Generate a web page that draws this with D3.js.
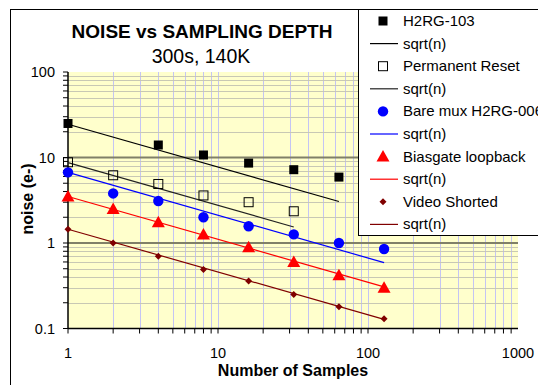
<!DOCTYPE html>
<html>
<head>
<meta charset="utf-8">
<script src="https://cdn.jsdelivr.net/npm/d3@7"></script>
<style>
  body { margin: 0; background: #fff; }
  svg { display: block; font-family: Arial, "Liberation Sans", sans-serif; }
</style>
</head>
<body>
<svg></svg>
<script>
// chart size
const width = 538,
      height = 385;

// data
const samples = [1, 2, 4, 8, 16, 32, 64, 128];

const h2rg103 = [25, null, 14, 10.7, 8.6, 7.2, 5.9, null];
const permReset = [8.8, 6.2, 4.9, 3.6, 3.0, 2.35, null, null];
const bareMux = [6.7, 3.8, 3.1, 2.0, 1.57, 1.26, 1.0, 0.85];
const biasgate = [3.5, 2.5, 1.75, 1.26, 0.89, 0.6, 0.42, 0.3];
const videoShorted = [1.45, 1.0, 0.7, 0.49, 0.36, 0.25, 0.18, 0.13];

// sqrt(n) fit lines, end points
const fitH2rg = [[1, 24.5], [64, 3.06]];
const fitPerm = [[1, 8.7], [32, 1.54]];
const fitMux = [[1, 6.7], [128, 0.59]];
const fitBias = [[1, 3.5], [128, 0.307]];
const fitVideo = [[1, 1.45], [128, 0.128]];

const xTicks = [1, 10, 100, 1000];
const yTicks = [0.1, 1, 10, 100];

const series = [
  { name: 'H2RG-103', values: h2rg103, fit: fitH2rg, marker: 'square', fill: '#000', line: '#000' },
  { name: 'Permanent Reset', values: permReset, fit: fitPerm, marker: 'open', fill: 'none', line: '#222' },
  { name: 'Bare mux H2RG-006', values: bareMux, fit: fitMux, marker: 'circle', fill: '#0000ff', line: '#0000ff' },
  { name: 'Biasgate loopback', values: biasgate, fit: fitBias, marker: 'triangle', fill: '#ff0000', line: '#ff0000' },
  { name: 'Video Shorted', values: videoShorted, fit: fitVideo, marker: 'diamond', fill: '#800000', line: '#800000' }
];

const svg = d3.select('svg')
              .attr('width', width)
              .attr('height', height);

// scales
const x = d3.scaleLog().domain([1, 1000]).range([68, 518]);
const y = d3.scaleLog().domain([0.1, 100]).range([328.5, 72]);

// chart frame
svg.append('rect')
   .attr('x', 10.5).attr('y', 9.5)
   .attr('width', 600).attr('height', 400)
   .attr('fill', '#fff')
   .attr('stroke', '#000');

// plot background
svg.append('rect')
   .attr('x', x(1)).attr('y', y(100))
   .attr('width', x(1000) - x(1))
   .attr('height', y(0.1) - y(100))
   .attr('fill', '#ffffcc');

// minor values for grid
let minors = [];
[0.1, 1, 10, 100].forEach(d => {
  for (let k = 1; k < 10; k++) minors.push(d * k);
});
const xMinor = minors.filter(d => d >= 1 && d <= 1000);
const yMinor = minors.filter(d => d >= 0.1 && d <= 100);

const grid = svg.append('g');

// vertical grid
grid.selectAll('.vgrid')
    .data(xMinor.filter(d => d > 1))
    .enter().append('line')
    .attr('x1', d => Math.round(x(d)) + 0.5)
    .attr('x2', d => Math.round(x(d)) + 0.5)
    .attr('y1', y(100)).attr('y2', y(0.1))
    .attr('stroke', '#c4c4f4');

// horizontal minor grid
grid.selectAll('.hgrid')
    .data(yMinor.filter(d => yTicks.indexOf(+d.toPrecision(3)) < 0))
    .enter().append('line')
    .attr('x1', x(1)).attr('x2', x(1000))
    .attr('y1', d => Math.round(y(d)) + 0.5)
    .attr('y2', d => Math.round(y(d)) + 0.5)
    .attr('stroke', '#c8c8b4');

// horizontal major grid
grid.selectAll('.hmajor')
    .data([1, 10])
    .enter().append('line')
    .attr('x1', x(1)).attr('x2', x(1000))
    .attr('y1', d => y(d)).attr('y2', d => y(d))
    .attr('stroke', '#808068')
    .attr('stroke-width', 2);

// axes
const xAxis = svg.append('g').attr('transform', 'translate(0,' + y(0.1) + ')');
xAxis.append('line').attr('x1', x(1)).attr('x2', x(1000)).attr('stroke', '#000').attr('stroke-width', 1.5);
xAxis.selectAll('.tick')
     .data(xMinor)
     .enter().append('line')
     .attr('x1', d => x(d)).attr('x2', d => x(d))
     .attr('y1', 0).attr('y2', 5)
     .attr('stroke', '#000');
xAxis.selectAll('.lbl')
     .data(xTicks)
     .enter().append('text')
     .attr('x', d => x(d))
     .attr('y', 29)
     .attr('text-anchor', 'middle')
     .attr('font-size', '14.5px')
     .text(d => d);

const yAxis = svg.append('g').attr('transform', 'translate(' + x(1) + ',0)');
yAxis.append('line').attr('y1', y(0.1)).attr('y2', y(100)).attr('stroke', '#000').attr('stroke-width', 1.5);
yAxis.selectAll('.tick')
     .data(yMinor)
     .enter().append('line')
     .attr('y1', d => y(d)).attr('y2', d => y(d))
     .attr('x1', 0).attr('x2', -5)
     .attr('stroke', '#000');
yAxis.selectAll('.lbl')
     .data(yTicks)
     .enter().append('text')
     .attr('x', -13)
     .attr('y', d => y(d) + 5)
     .attr('text-anchor', 'end')
     .attr('font-size', '14.5px')
     .text(d => d);

// fit lines
const line = d3.line().x(d => x(d[0])).y(d => y(d[1]));
svg.append('g').selectAll('path')
   .data(series)
   .enter().append('path')
   .attr('d', d => line(d.fit))
   .attr('fill', 'none')
   .attr('stroke', d => d.line)
   .attr('stroke-width', 1.2);

// marker shapes
function drawMarker(g, type, s) {
  if (type === 'square') {
    g.append('rect').attr('x', -4.5).attr('y', -4.5).attr('width', 9).attr('height', 9)
     .attr('fill', s.fill);
  } else if (type === 'open') {
    g.append('rect').attr('x', -4.5).attr('y', -4.5).attr('width', 9).attr('height', 9)
     .attr('fill', 'none').attr('stroke', '#000').attr('stroke-width', 1);
  } else if (type === 'circle') {
    g.append('circle').attr('r', 5.2).attr('fill', s.fill);
  } else if (type === 'triangle') {
    g.append('path').attr('d', 'M0,-6.5L6.5,5L-6.5,5Z').attr('fill', s.fill);
  } else if (type === 'diamond') {
    g.append('path').attr('d', 'M0,-3.5L3.5,0L0,3.5L-3.5,0Z').attr('fill', s.fill);
  }
}

// data points
series.forEach(s => {
  const pts = samples.map((n, i) => ({ n: n, v: s.values[i] })).filter(d => d.v != null);
  svg.append('g').selectAll('g')
     .data(pts)
     .enter().append('g')
     .attr('transform', d => 'translate(' + x(d.n) + ',' + y(d.v) + ')')
     .each(function() { drawMarker(d3.select(this), s.marker, s); });
});

// title
svg.append('text')
   .attr('x', 202).attr('y', 38)
   .attr('text-anchor', 'middle')
   .attr('font-size', '19px')
   .attr('font-weight', 'bold')
   .text('NOISE vs SAMPLING DEPTH');

svg.append('text')
   .attr('x', 201).attr('y', 62.5)
   .attr('text-anchor', 'middle')
   .attr('font-size', '19.5px')
   .text('300s, 140K');

// axis labels
svg.append('text')
   .attr('x', 293).attr('y', 376)
   .attr('text-anchor', 'middle')
   .attr('font-size', '16px')
   .attr('font-weight', 'bold')
   .text('Number of Samples');

svg.append('text')
   .attr('transform', 'translate(33,199) rotate(-90)')
   .attr('text-anchor', 'middle')
   .attr('font-size', '16px')
   .attr('font-weight', 'bold')
   .text('noise (e-)');

// legend
const legend = svg.append('g');
legend.append('rect')
      .attr('x', 358.5).attr('y', 9.5)
      .attr('width', 300).attr('height', 226)
      .attr('fill', '#fff')
      .attr('stroke', '#000');

const rowH = 22.6;
series.forEach((s, i) => {
  const y0 = 21 + i * 2 * rowH;
  const g1 = legend.append('g').attr('transform', 'translate(383,' + y0 + ')');
  drawMarker(g1, s.marker, s);
  legend.append('text')
        .attr('x', 403).attr('y', y0 + 5)
        .attr('font-size', '15px')
        .text(s.name);
  const y1 = y0 + rowH;
  legend.append('line')
        .attr('x1', 370).attr('x2', 398)
        .attr('y1', y1).attr('y2', y1)
        .attr('stroke', s.line)
        .attr('stroke-width', 1.2);
  legend.append('text')
        .attr('x', 403).attr('y', y1 + 5)
        .attr('font-size', '15px')
        .text('sqrt(n)');
});
</script>
</body>
</html>
